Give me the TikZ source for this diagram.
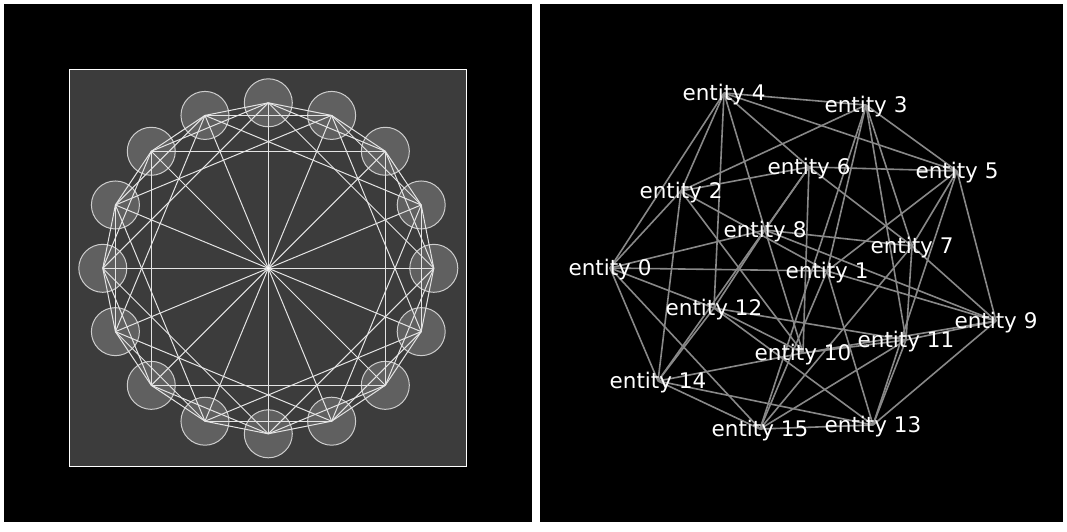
\documentclass[tikz,border=0pt]{standalone}
\usepackage{fontspec}
\setmainfont{DejaVu Sans}
\definecolor{sqfill}{RGB}{60,60,60}
\definecolor{circfill}{RGB}{96,96,96}
\definecolor{circline}{RGB}{205,205,205}
\definecolor{lline}{RGB}{228,228,228}
\definecolor{redge}{RGB}{136,136,136}
\pgfdeclarelayer{bg}
\pgfdeclarelayer{edges}
\pgfsetlayers{bg,edges,main}
\begin{document}
\begin{tikzpicture}[x=1pt,y=-1pt,
  panel/.style={fill=black,draw=none},
  frame/.style={fill=sqfill,draw=white,line width=1pt},
  ringnode/.style={circle,minimum size=48pt,inner sep=0pt,fill=circfill,draw=circline,line width=1pt},
  ledge/.style={draw=lline,line width=1pt},
  rnode/.style={inner sep=0pt,text=white,text height=15.3pt,text depth=0pt,font=\fontsize{21.5}{21.5}\selectfont},
  redgestyle/.style={draw=redge,line width=1.6pt}
]
\begin{pgfonlayer}{bg}
\path[fill=white] (0,0) rectangle (1067,531);
\path[panel] (4,4) rectangle (532,522);
\path[panel] (540,4) rectangle (1063,522);
\path[frame] (69.5,69.5) rectangle (466.5,466.5);
\end{pgfonlayer}
% left circular layout
\foreach \k in {0,...,15}{
  \node[ringnode] (L\k) at ({268.3+165.5*cos(90+22.5*\k)},{268.3-165.5*sin(90+22.5*\k)}) {};
}
\foreach \i in {0,...,15}{
  \foreach \s in {1,2,4}{
    \pgfmathtruncatemacro\j{mod(\i+\s,16)}
    \draw[ledge] (L\i.center) -- (L\j.center);
  }
}
\foreach \i in {0,...,7}{
  \pgfmathtruncatemacro\j{\i+8}
  \draw[ledge] (L\i.center) -- (L\j.center);
}
\fill[white] (268.3,268.3) circle (1.6pt);
% right force layout
\node[rnode] (E0) at (610,268) {entity 0};
\node[rnode] (E1) at (827,271) {entity 1};
\node[rnode] (E2) at (681,191) {entity 2};
\node[rnode] (E3) at (866,105) {entity 3};
\node[rnode] (E4) at (724,93) {entity 4};
\node[rnode] (E5) at (957,171) {entity 5};
\node[rnode] (E6) at (809,167) {entity 6};
\node[rnode] (E7) at (912,246) {entity 7};
\node[rnode] (E8) at (765,230) {entity 8};
\node[rnode] (E9) at (996,321) {entity 9};
\node[rnode] (E10) at (803,353) {entity 10};
\node[rnode] (E11) at (906,340) {entity 11};
\node[rnode] (E12) at (714,308) {entity 12};
\node[rnode] (E13) at (873,425) {entity 13};
\node[rnode] (E14) at (658,381) {entity 14};
\node[rnode] (E15) at (760,429) {entity 15};
\begin{pgfonlayer}{edges}
\foreach \i in {0,...,15}{
  \foreach \s in {1,2,4}{
    \pgfmathtruncatemacro\j{mod(\i+\s,16)}
    \draw[redgestyle] (E\i.center) -- (E\j.center);
  }
}
\foreach \i in {0,...,7}{
  \pgfmathtruncatemacro\j{\i+8}
  \draw[redgestyle] (E\i.center) -- (E\j.center);
}
\end{pgfonlayer}
\end{tikzpicture}
\end{document}
